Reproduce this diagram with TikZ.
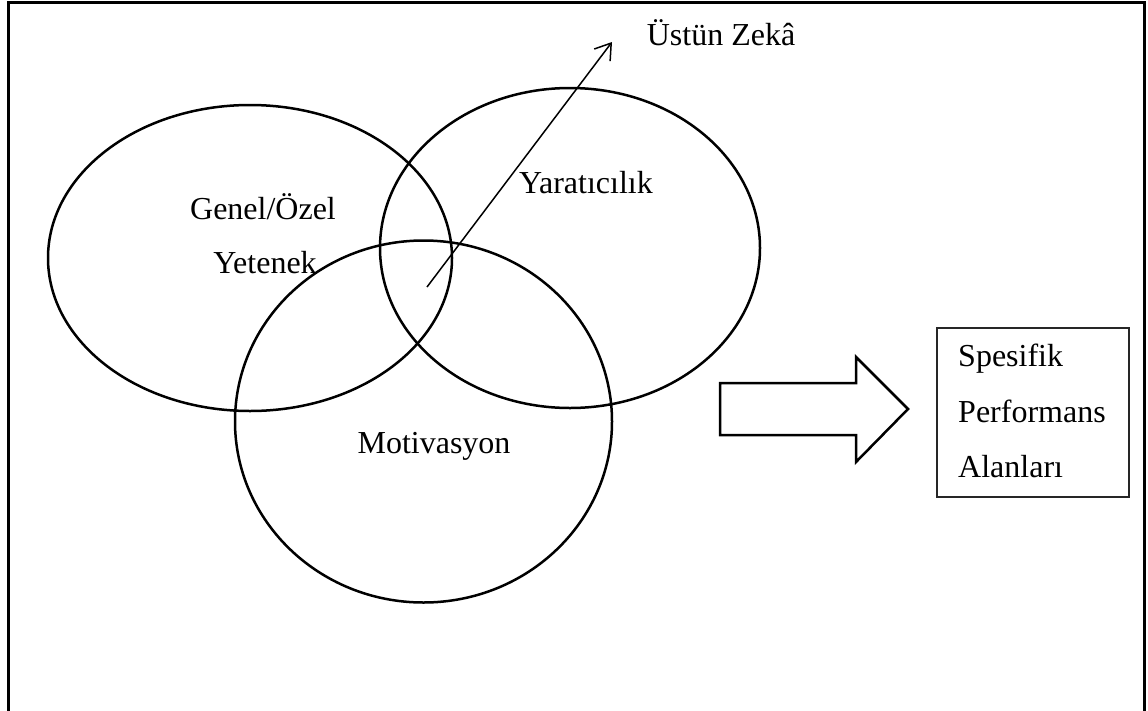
\documentclass[tikz,border=0pt]{standalone}
\usepackage{fontspec}
\setmainfont{Liberation Serif}
\usetikzlibrary{shapes.geometric,arrows.meta}
\begin{document}
\begin{tikzpicture}[x=1pt,y=-1pt,
  txt/.style={font=\fontsize{32}{38}\selectfont, inner sep=0pt, anchor=base},
  ring/.style={ellipse, draw, line width=2.5pt, inner sep=0pt},
  frameline/.style={line width=3pt},
  thinline/.style={line width=1.5pt}]
\useasboundingbox (0,0) rectangle (1148,710);
% open frame around the figure
\draw[frameline] (8,712) -- (8,2.5) -- (1144,2.5) -- (1144,712);
% three overlapping circles
\node[ring, minimum width=404pt, minimum height=306pt] (genel) at (250,258) {};
\node[ring, minimum width=380pt, minimum height=320pt] (yarat) at (570,248) {};
\node[ring, minimum width=377pt, minimum height=362pt] (motiv) at (423.5,421.5) {};
% labels inside the circles
\node[txt] (tgenel) at (263,219) {Genel/Özel};
\node[txt] (tyetenek) at (265,273) {Yetenek};
\node[txt] (tyarat) at (586,193) {Yaratıcılık};
\node[txt] (tmotiv) at (434,453) {Motivasyon};
% arrow from the common area to the label
\coordinate (core) at (427,287);
\coordinate (tip) at (612,42);
\draw[thinline, -{Straight Barb[length=15pt,width=20pt,line width=1.5pt]}] (core) -- (tip);
\node[txt] (ustun) at (721,45) {Üstün Zekâ};
% block arrow
\draw[line width=2.5pt, line join=miter]
  (720,383) -- (856,383) -- (856,357) -- (908,409) -- (856,462)
  -- (856,435) -- (720,435) -- cycle;
% result box
\node[draw, thinline, draw=black!85, minimum width=192pt, minimum height=169pt, inner sep=0pt]
  (box) at (1033,412.5) {};
\node[txt, anchor=base west] (s1) at (958,366) {Spesifik};
\node[txt, anchor=base west] (s2) at (958,422) {Performans};
\node[txt, anchor=base west] (s3) at (958,477) {Alanları};
\end{tikzpicture}
\end{document}
